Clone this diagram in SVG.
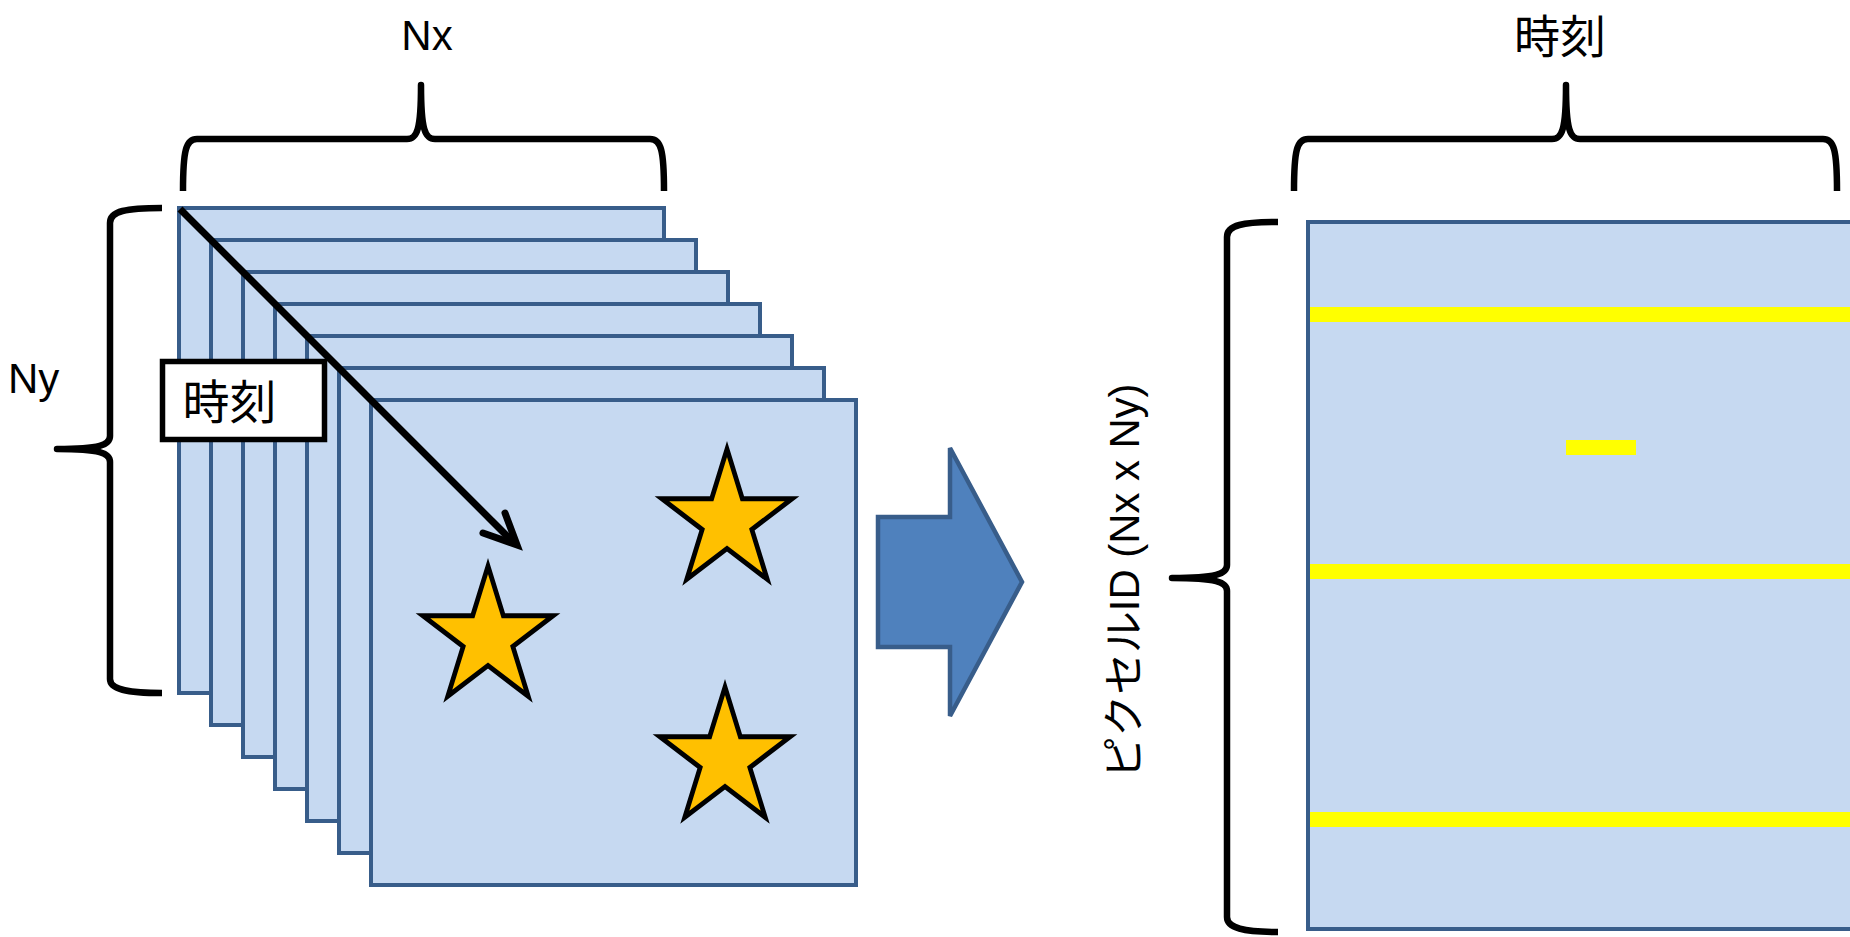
<svg xmlns="http://www.w3.org/2000/svg" width="1850" height="937" viewBox="0 0 1850 937">
  <style>
    .frame { fill: #C6D9F1; stroke: #385D8A; stroke-width: 4; }
    .brace { fill: none; stroke: #000; stroke-width: 6.5; stroke-linejoin: round; stroke-linecap: butt; }
    .star { fill: #FFC000; stroke: #000; stroke-width: 5; stroke-linejoin: miter; }
    .yl { fill: #FFFF00; }
    .lbl { font-family: "Liberation Sans", "Noto Sans CJK JP", sans-serif; fill: #000; }
    .cjk { font-family: "Noto Sans CJK JP", "Liberation Sans", sans-serif; fill: #000; }
  </style>
  <defs>
    <polygon id="starShape" points="0,-72 16.16,-22.25 68.48,-22.25 26.15,8.5 42.32,58.25 0,27.5 -42.32,58.25 -26.15,8.5 -68.48,-22.25 -16.16,-22.25"/>
  </defs>
  <rect width="1850" height="937" fill="#FFFFFF"/>

  <g id="frames">
    <rect class="frame" x="179" y="208" width="485" height="485"/>
    <rect class="frame" x="211" y="240" width="485" height="485"/>
    <rect class="frame" x="243" y="272" width="485" height="485"/>
    <rect class="frame" x="275" y="304" width="485" height="485"/>
    <rect class="frame" x="307" y="336" width="485" height="485"/>
    <rect class="frame" x="339" y="368" width="485" height="485"/>
    <rect class="frame" x="371" y="400" width="485" height="485"/>
  </g>

  <g id="stars">
    <use href="#starShape" class="star" transform="translate(727,521) scale(0.95,1)"/>
    <use href="#starShape" class="star" transform="translate(488,638) scale(0.95,1)"/>
    <use href="#starShape" class="star" transform="translate(725,759) scale(0.95,1)"/>
  </g>

  <g id="connectors">
    <line x1="180" y1="209" x2="514" y2="543" stroke="#000" stroke-width="7"/>
    <path d="M483,533 L517,545 L505,513" fill="none" stroke="#000" stroke-width="7" stroke-linecap="round" stroke-linejoin="miter"/>
  </g>

  <g id="time-box">
    <rect x="162.5" y="361.5" width="162" height="78" fill="#FFFFFF" stroke="#000" stroke-width="5.5"/>
    <text class="cjk" x="229.5" y="419" font-size="47" text-anchor="middle">時刻</text>
  </g>

  <g id="brace-nx">
    <path class="brace" d="M183,191 C183,150 186,139 197,139 L407,139 C417,139 421,130 421,85 C421,130 425,139 435,139 L650,139 C661,139 664,150 664,191"/>
    <text class="lbl" x="427" y="50" font-size="42" text-anchor="middle">Nx</text>
  </g>

  <g id="brace-ny">
    <path class="brace" d="M162,208 C126,208 110,211 110,223 L110,436 C110,445 100,449 57,449 C100,449 110,453 110,462 L110,679 C110,689 126,693 162,693"/>
    <text class="lbl" x="8" y="393" font-size="42">Ny</text>
  </g>

  <g id="block-arrow">
    <path d="M878,517 L950,517 L950,448 L1022,582 L950,716 L950,647 L878,647 Z" fill="#4F81BD" stroke="#385D8A" stroke-width="4.5" stroke-linejoin="miter"/>
  </g>

  <g id="matrix">
    <rect x="1308" y="222" width="600" height="707" fill="#C6D9F1" stroke="#385D8A" stroke-width="4"/>
    <rect class="yl" x="1310" y="307" width="545" height="15"/>
    <rect class="yl" x="1310" y="564" width="545" height="15"/>
    <rect class="yl" x="1310" y="812" width="545" height="15"/>
    <rect class="yl" x="1566" y="440" width="70" height="15"/>
  </g>

  <g id="brace-time">
    <path class="brace" d="M1294,191 C1294,150 1297,139 1308,139 L1552,139 C1562,139 1566,130 1566,85 C1566,130 1570,139 1580,139 L1823,139 C1834,139 1837,150 1837,191"/>
    <text class="cjk" x="1560" y="53" font-size="46" text-anchor="middle">時刻</text>
  </g>

  <g id="brace-pixel">
    <path class="brace" d="M1278,222 C1243,222 1227,225 1227,237 L1227,565 C1227,574 1216,578 1172,578 C1216,578 1227,582 1227,591 L1227,917 C1227,928 1243,932 1278,932"/>
    <text class="lbl" transform="translate(1139,581) rotate(-90)" font-size="42" text-anchor="middle" textLength="395" lengthAdjust="spacingAndGlyphs">ピクセルID (Nx x Ny)</text>
  </g>
</svg>
